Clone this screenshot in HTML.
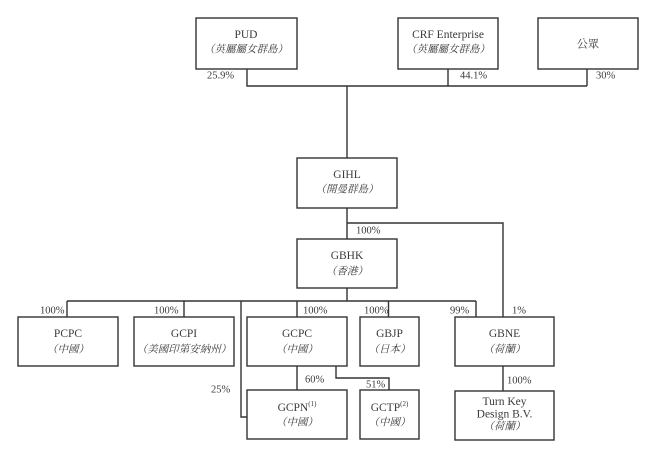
<!DOCTYPE html>
<html><head><meta charset="utf-8"><style>
html,body{margin:0;padding:0;background:#fff;}
svg{display:block;}
text{font-family:"Liberation Serif","Noto Serif CJK SC",serif;fill:#3a3a3a;}
.n{font-size:11.5px;}
.c{font-size:10.5px;font-style:italic;font-family:"Liberation Serif","Noto Serif CJK TC",serif;}
.p{font-size:10.5px;}
</style></head><body>
<svg width="658" height="450" viewBox="0 0 658 450" xmlns="http://www.w3.org/2000/svg">
<g fill="none" stroke="#333" stroke-width="1.4">
<!-- top boxes -->
<rect x="196" y="18" width="101" height="51"/>
<rect x="398" y="18" width="100" height="51"/>
<rect x="538" y="18" width="100" height="51"/>
<!-- top connectors -->
<polyline points="247,69 247,86 587,86"/>
<line x1="448" y1="69" x2="448" y2="86"/>
<line x1="587" y1="69" x2="587" y2="86"/>
<line x1="347" y1="86" x2="347" y2="158"/>
<!-- GIHL -->
<rect x="297" y="158" width="100" height="50"/>
<line x1="347" y1="208" x2="347" y2="239"/>
<polyline points="347,223 503,223 503,317"/>
<!-- GBHK -->
<rect x="297" y="239" width="100" height="49"/>
<line x1="347" y1="288" x2="347" y2="301"/>
<!-- level 3 bus -->
<line x1="67" y1="301" x2="476" y2="301"/>
<line x1="67" y1="301" x2="67" y2="317"/>
<line x1="184" y1="301" x2="184" y2="317"/>
<line x1="297" y1="301" x2="297" y2="317"/>
<line x1="388.5" y1="301" x2="388.5" y2="317"/>
<line x1="476" y1="301" x2="476" y2="317"/>
<polyline points="241,301 241,417 247,417"/>
<!-- level 3 boxes -->
<rect x="18" y="317" width="100" height="49"/>
<rect x="134" y="317" width="100" height="49"/>
<rect x="247" y="317" width="100" height="49"/>
<rect x="360" y="317" width="59" height="49"/>
<rect x="455" y="317" width="99" height="49"/>
<!-- level 4 connectors -->
<line x1="297" y1="366" x2="297" y2="390"/>
<polyline points="336,366 336,378 389,378 389,390"/>
<line x1="503" y1="366" x2="503" y2="391"/>
<!-- level 4 boxes -->
<rect x="247" y="390" width="100" height="49"/>
<rect x="360" y="390" width="59" height="49"/>
<rect x="455" y="391" width="99" height="49"/>
</g>
<g text-anchor="middle" dominant-baseline="central">
<text class="n" x="246" y="35">PUD</text>
<text class="c" x="246" y="50">（英屬屬女群島）</text>
<text class="n" x="448" y="35">CRF Enterprise</text>
<text class="c" x="448" y="50">（英屬屬女群島）</text>
<text class="n" x="588" y="43.5" style="font-family:'Noto Serif CJK TC',serif;font-size:11px">公眾</text>
<text class="n" x="347" y="175">GIHL</text>
<text class="c" x="347" y="190">（開曼群島）</text>
<text class="n" x="347" y="256">GBHK</text>
<text class="c" x="347" y="272">（香港）</text>
<text class="n" x="68" y="334">PCPC</text>
<text class="c" x="68" y="350">（中國）</text>
<text class="n" x="184" y="334">GCPI</text>
<text class="c" x="184" y="350">（美國印第安納州）</text>
<text class="n" x="297" y="334">GCPC</text>
<text class="c" x="297" y="350">（中國）</text>
<text class="n" x="389.5" y="334">GBJP</text>
<text class="c" x="389.5" y="350">（日本）</text>
<text class="n" x="504.5" y="334">GBNE</text>
<text class="c" x="504.5" y="350">（荷蘭）</text>
<text class="n" x="297" y="408">GCPN<tspan font-size="7" dy="-4">(1)</tspan></text>
<text class="c" x="297" y="423">（中國）</text>
<text class="n" x="389.5" y="408">GCTP<tspan font-size="7" dy="-4">(2)</tspan></text>
<text class="c" x="389.5" y="423">（中國）</text>
<text class="n" x="504.5" y="402">Turn Key</text>
<text class="n" x="504.5" y="414.5">Design B.V.</text>
<text class="c" x="504.5" y="427">（荷蘭）</text>
</g>
<g class="p" dominant-baseline="central">
<text class="p" x="207" y="76">25.9%</text>
<text class="p" x="460" y="76">44.1%</text>
<text class="p" x="596" y="76">30%</text>
<text class="p" x="356" y="231">100%</text>
<text class="p" x="40" y="311">100%</text>
<text class="p" x="154" y="311">100%</text>
<text class="p" x="303" y="311">100%</text>
<text class="p" x="364" y="311">100%</text>
<text class="p" x="450" y="311">99%</text>
<text class="p" x="512" y="311">1%</text>
<text class="p" x="211" y="390">25%</text>
<text class="p" x="305" y="380">60%</text>
<text class="p" x="366" y="385">51%</text>
<text class="p" x="507" y="381">100%</text>
</g>
</svg>
</body></html>
